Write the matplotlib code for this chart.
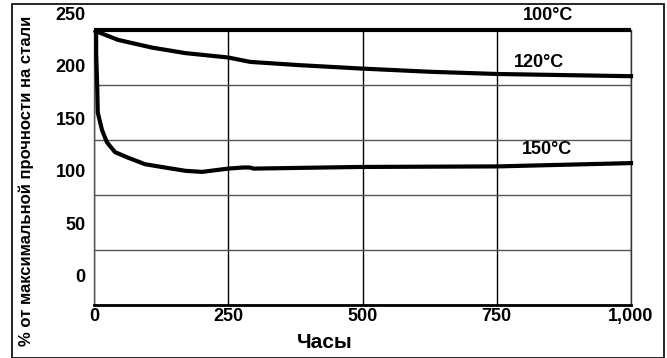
import numpy as np
import matplotlib.pyplot as plt
from matplotlib.patches import Rectangle

plt.rcParams['font.family'] = ['Liberation Sans', 'DejaVu Sans']
plt.rcParams['font.weight'] = 'bold'

# curves (hours, grid units 0..250)
hours_100 = [0, 1000]
vals_100 = [250, 250]

hours_120 = [3, 45, 108, 170, 250, 291, 384, 496, 627, 752, 1000]
vals_120 = [249, 241, 234, 229, 225, 221, 218, 215, 212, 210, 208]

hours_150 = [4, 4, 6, 7, 15, 24, 39, 63, 95, 132, 170, 201, 250, 278, 290, 297, 496, 752, 1000]
vals_150 = [249, 229, 198, 175, 159, 148, 139, 134, 128, 125, 122, 121, 124, 125, 125, 124, 125.5, 126, 129]

xticks = [0, 250, 500, 750, 1000]
xtick_labels = ['0', '250', '500', '750', '1,000']
grid_y = [0, 50, 100, 150, 200, 250]
ytick_labels = [0, 50, 100, 150, 200, 250]


# the printed y scale does not line up with the gridlines in the original
def label_to_grid(v):
    return (1.052 * np.asarray(v) + 27) / 1.1


fig = plt.figure(figsize=(6.67, 3.58), dpi=100)
ax = fig.add_axes([94 / 667, 53 / 358, 537 / 667, 275 / 358])

ax.plot(hours_100, vals_100, color='black', lw=3, solid_capstyle='butt', clip_on=False, zorder=5)
ax.plot(hours_120, vals_120, color='black', lw=3, clip_on=False, zorder=5)
ax.plot(hours_150, vals_150, color='black', lw=3, clip_on=False, zorder=5)

ax.set_xlim(0, 1000)
ax.set_ylim(0, 250)
ax.set_xticks(xticks)
ax.set_xticklabels(xtick_labels)
ax.set_yticks(grid_y)
ax.tick_params(axis='y', length=0, labelleft=False)
ax.tick_params(axis='x', length=0, labelsize=13, pad=2)

for v in ytick_labels:
    ax.annotate(str(v), xy=(0, label_to_grid(v)), xycoords=('axes fraction', 'data'),
                xytext=(-6, 0), textcoords='offset points', ha='right', va='center',
                fontsize=13, fontweight='bold', annotation_clip=False)

ax.grid(axis='y', color='#555555', lw=1)
ax.grid(axis='x', color='black', lw=1)

ax.spines['top'].set_visible(False)
ax.spines['left'].set_color('#555555')
ax.spines['left'].set_linewidth(1)
ax.spines['right'].set_color('#333333')
ax.spines['right'].set_linewidth(1)
ax.spines['bottom'].set_linewidth(2)

ax.text(845, 263, '100°C', ha='center', va='center', fontsize=13, fontweight='bold', clip_on=False)
ax.text(828, 220, '120°C', ha='center', va='center', fontsize=13, fontweight='bold')
ax.text(843, 141, '150°C', ha='center', va='center', fontsize=13, fontweight='bold')

fig.text(325 / 667, 1 - 343 / 358, 'Часы', ha='center', va='center', fontsize=15, fontweight='bold')
fig.text(26 / 667, 1 - 181 / 358, '% от максимальной прочности на стали', rotation=90,
         ha='center', va='center', fontsize=12, fontweight='bold')

fig.patches.append(Rectangle((12 / 667, 0.5 / 358), 652 / 667, 353.5 / 358, transform=fig.transFigure,
                             fill=False, edgecolor='black', lw=1.2))

fig.savefig('out.png', dpi=100)
